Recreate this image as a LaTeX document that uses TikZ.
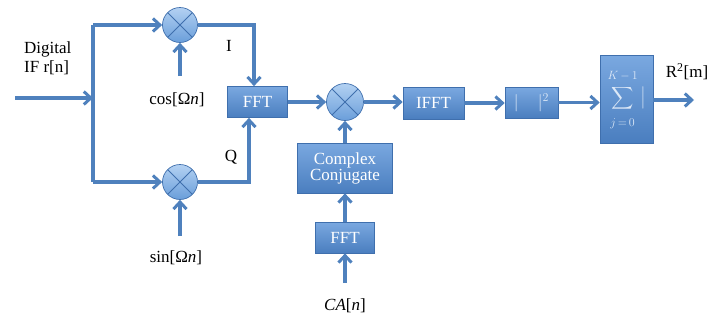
\documentclass[tikz,border=0pt]{standalone}
\usepackage{fontspec}
\usepackage{graphicx}
\setmainfont{Liberation Serif}
\usetikzlibrary{arrows.meta,calc}
\definecolor{ln}{HTML}{4F81BD}
\definecolor{bxtop}{HTML}{7AA8E0}
\definecolor{bxbot}{HTML}{4A7EBF}
\definecolor{bxedge}{HTML}{3F6FAD}
\definecolor{ctop}{HTML}{B3D1F2}
\definecolor{cbot}{HTML}{6A9EDA}
\definecolor{soft}{HTML}{DCE8F7}
\tikzset{
  wire/.style={draw=ln,line width=3.4pt,-{Straight Barb[length=7pt,width=13pt,line width=3pt]}},
  plain/.style={draw=ln,line width=3.4pt},
  blk/.style={rectangle,draw=bxedge,line width=0.7pt,top color=bxtop,bottom color=bxbot,text=white,font=\fontsize{17}{19}\selectfont,align=center,inner sep=0pt},
  mix/.style={circle,draw=bxedge,line width=0.7pt,top color=ctop,bottom color=cbot,minimum size=35pt,inner sep=0pt,
    path picture={\draw[bxedge,line width=0.8pt] (path picture bounding box.north west)--(path picture bounding box.south east)
      (path picture bounding box.north east)--(path picture bounding box.south west);}},
  lbl/.style={font=\fontsize{17}{19}\selectfont,inner sep=0pt}
}
\begin{document}
\begin{tikzpicture}[x=1pt,y=-1pt]
\useasboundingbox (0,0) rectangle (711,325);
% nodes
\node[mix] (mt) at (180,25) {};
\node[mix] (mb) at (180,182) {};
\node[blk,minimum width=60pt,minimum height=31pt] (fft1) at (257.5,102) {FFT};
\node[mix,minimum size=37pt] (mm) at (345,102) {};
\node[blk,minimum width=95pt,minimum height=50pt] (cc) at (345,168) {Complex\\[-3pt]Conjugate};
\node[blk,minimum width=59pt,minimum height=31pt] (fft2) at (345,237.5) {FFT};
\node[blk,minimum width=61pt,minimum height=32pt] (ifft) at (433.5,103) {IFFT};
\node[blk,minimum width=53pt,minimum height=31pt,text=soft] (abs) at (531.5,102.5) {$|\;\;\;\;|^{2}$};
\node[blk,minimum width=53pt,minimum height=88pt,text=soft] (sum) at (626.5,99) {%
  \begin{tabular}{@{}c@{}}
  {\fontsize{12}{12}\selectfont$K\,{-}\,1$}\\[1pt]
  \scalebox{1.55}{$\displaystyle\sum$}\\[2pt]
  {\fontsize{12}{12}\selectfont$j\,{=}\,0$}
  \end{tabular}\hspace{3pt}\scalebox{1}[1.3]{$|$}};
% labels
\node[lbl,align=left,anchor=west] (dig) at (24,58) {Digital\\IF r[n]};
\node[lbl] (ilbl) at (229,46) {I};
\node[lbl] (qlbl) at (231,157) {Q};
\node[lbl] (cos) at (177,100) {cos[Ω\textit{n}]};
\node[lbl] (sin) at (176,258) {sin[Ω\textit{n}]};
\node[lbl] (ca) at (345,306) {\textit{CA}[\textit{n}]};
\node[lbl] (rout) at (687,72) {R\textsuperscript{2}[m]};
% coordinates
\coordinate (in) at (15,98);
\coordinate (bus) at (93,98);
\coordinate (bt) at (93,25);
\coordinate (bb) at (93,182);
\coordinate (cosin) at (180,76);
\coordinate (sinin) at (180,236);
\coordinate (cain) at (345,283);
\coordinate (out) at (694,100);
% connectors
\draw[wire] (in) -- (bus);
\draw[plain] (bt) -- (bb);
\draw[wire] (bt) -- (mt.west);
\draw[wire] (bb) -- (mb.west);
\draw[wire] (cosin) -- (mt.south);
\draw[wire] (sinin) -- (mb.south);
\draw[wire] (mt.east) -| ($(fft1.north)+(-3.5,0)$);
\draw[wire] (mb.east) -| ($(fft1.south)+(-8.5,0)$);
\draw[wire] (fft1.east) -- (mm.west);
\draw[wire] (cain) -- (fft2.south);
\draw[wire] (fft2.north) -- (cc.south);
\draw[wire] (cc.north) -- (mm.south);
\draw[wire] (mm.east) -- (mm.east -| ifft.west);
\draw[wire] (ifft.east) -- (abs.west |- ifft.east);
\draw[wire] (abs.east) -- (sum.west |- abs.east);
\draw[wire] (sum.east |- out) -- (out);
\end{tikzpicture}
\end{document}
